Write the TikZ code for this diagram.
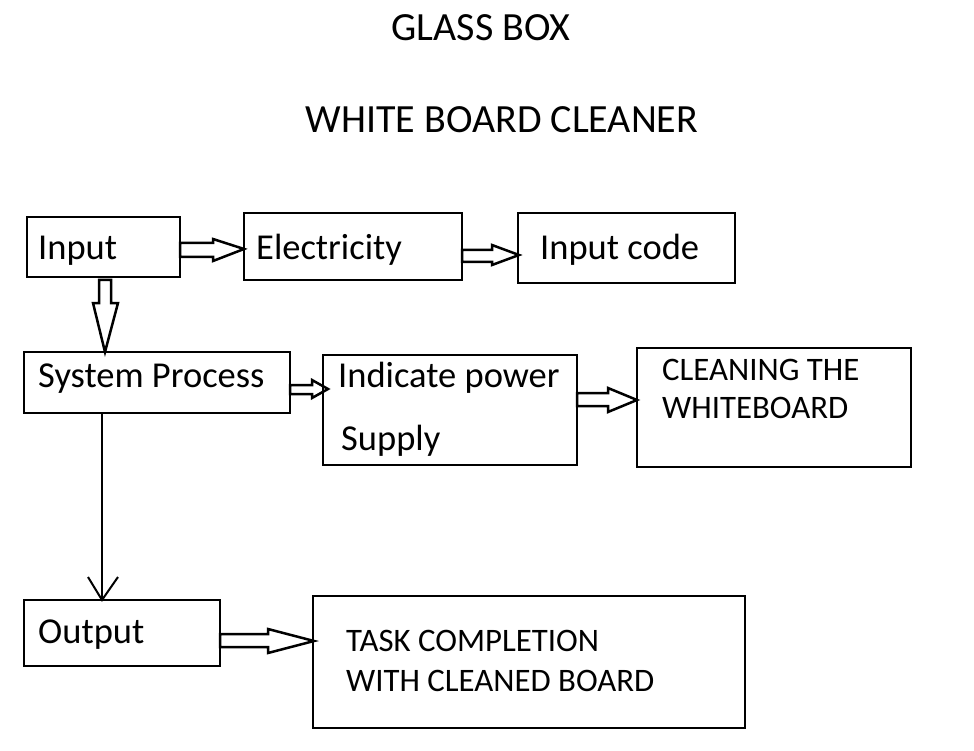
\documentclass[tikz,border=0pt]{standalone}
\usepackage{fontspec}
\setmainfont{Carlito}
\begin{document}
\begin{tikzpicture}[x=1pt,y=-1pt,
  box/.style={draw,line width=2pt},
  lbl/.style={anchor=base west,inner sep=0pt,font=\fontsize{36.5}{40}\selectfont},
  uplbl/.style={anchor=base west,inner sep=0pt,font=\fontsize{32.8}{36}\selectfont},
  ttl/.style={anchor=base,inner sep=0pt,font=\fontsize{40}{44}\selectfont},
  barrow/.style={draw,line width=2.5pt,line join=miter},
  varrow/.style={draw,line width=2pt}]
\useasboundingbox (0,0) rectangle (974,751);
% boxes
\draw[box] (27,217) rectangle (180,277);
\draw[box] (244,213) rectangle (462,280);
\draw[box] (518,213) rectangle (735,283);
\draw[box] (24,352) rectangle (290,413);
\draw[box] (323,355) rectangle (577,465);
\draw[box] (637,348) rectangle (911,467);
\draw[box] (24,600) rectangle (220,666);
\draw[box] (313,596) rectangle (745,728);
% titles
\node[ttl] (t1) at (481,41) {GLASS BOX};
\node[ttl] (t2) at (502,133) {WHITE BOARD CLEANER};
% labels
\node[lbl] (input) at (38,260) {Input};
\node[lbl] (elec) at (256,260) {Electricity};
\node[lbl] (code) at (540,260) {Input code};
\node[lbl] (sys) at (38,387) {System Process};
\node[lbl] (ind) at (338,387) {Indicate power};
\node[lbl] (sup) at (341,450) {Supply};
\node[uplbl] (clean1) at (662,380) {CLEANING THE};
\node[uplbl] (clean2) at (662,418) {WHITEBOARD};
\node[lbl] (out) at (38,643) {Output};
\node[uplbl] (task1) at (346,651) {TASK COMPLETION};
\node[uplbl] (task2) at (346,691) {WITH CLEANED BOARD};
% block arrows
\draw[barrow] (180,243) -- (213,243) -- (213,239) -- (244,249) -- (213,261) -- (213,257) -- (180,257) -- cycle;
\draw[barrow] (462,250) -- (492,250) -- (492,245) -- (519,255) -- (492,265) -- (492,262) -- (462,262) -- cycle;
\draw[barrow] (99,280) -- (111,280) -- (111,303) -- (118,303) -- (105,352) -- (93,303) -- (99,303) -- cycle;
\draw[barrow] (290,385) -- (312,385) -- (312,380) -- (328,389) -- (312,398) -- (312,394) -- (290,394) -- cycle;
\draw[barrow] (577,393) -- (608,393) -- (608,388) -- (637,400) -- (608,412) -- (608,406) -- (577,406) -- cycle;
\draw[barrow] (220,634) -- (268,634) -- (268,629) -- (314,641) -- (268,653) -- (268,647) -- (220,647) -- cycle;
% open arrow down
\draw[varrow] (102,413) -- (102,600);
\draw[varrow] (88,577) -- (102,600) -- (118,577);
\end{tikzpicture}
\end{document}
